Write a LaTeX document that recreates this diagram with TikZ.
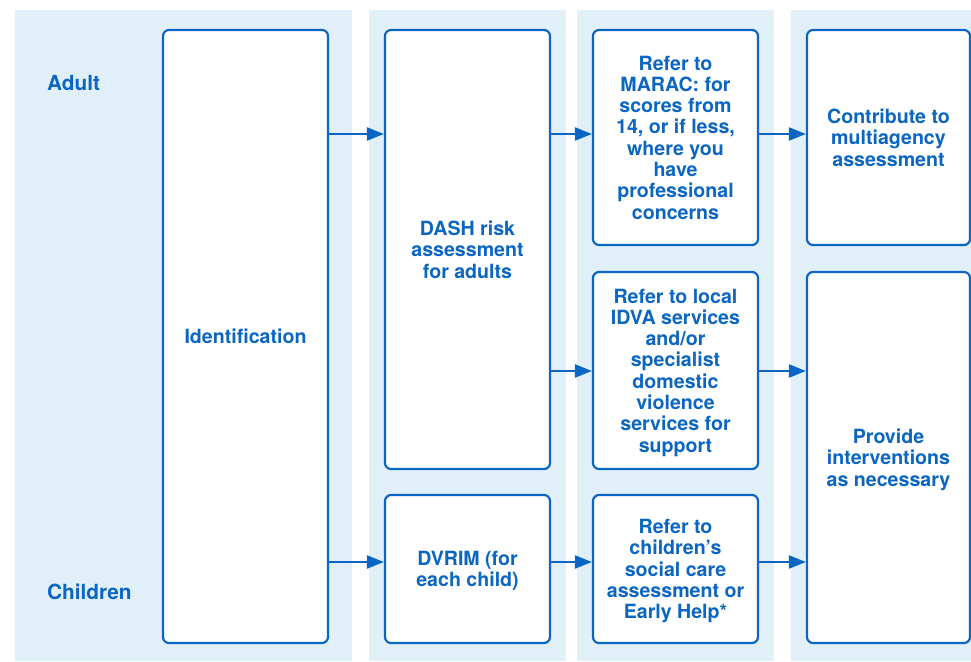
\documentclass[tikz,border=0pt]{standalone}
\usepackage{fontspec}
\setmainfont{TeX Gyre Heros}
\usetikzlibrary{arrows.meta}
\definecolor{dblue}{HTML}{0A66C2}
\definecolor{lblue}{HTML}{E1EFF9}
\tikzset{
  col/.style={fill=lblue, draw=none},
  box/.style={draw=dblue, line width=2.2pt, rounded corners=6pt, fill=white,
    text=dblue, align=center, inner sep=0pt, text depth=0pt,
    font=\fontsize{19.6}{21.3}\selectfont\bfseries},
  lbl/.style={text=dblue, anchor=west, inner sep=0pt,
    font=\fontsize{20.8}{22}\selectfont\bfseries},
  arr/.style={draw=dblue, line width=2.2pt, -{Triangle[length=17pt,width=13pt]}}
}
\begin{document}
\begin{tikzpicture}[x=1pt,y=-1pt]
\useasboundingbox (0,0) rectangle (971,661);
% column backgrounds
\fill[col] (15,10) rectangle (352,661);
\fill[col] (369,10) rectangle (566,661);
\fill[col] (577,10) rectangle (774,661);
\fill[col] (791,10) rectangle (971,661);
% row labels
\node[lbl] (adult) at (47,83) {Adult};
\node[lbl] (children) at (47,592) {Children};
% boxes
\node[box, minimum width=165pt, minimum height=613pt] (ident) at (245.5,336.5) {Identification};
\node[box, minimum width=165pt, minimum height=439pt] (dash) at (467.5,249.5) {DASH risk\\assessment\\for adults};
\node[box, minimum width=165pt, minimum height=148pt] (dvrim) at (467.5,569) {DVRIM (for\\each child)};
\node[box, minimum width=165pt, minimum height=215pt] (marac) at (675.5,137.5) {Refer to\\MARAC: for\\scores from\\14, or if less,\\where you\\have\\professional\\concerns};
\node[box, minimum width=165pt, minimum height=197pt] (idva) at (675.5,370.5) {Refer to local\\IDVA services\\and/or\\specialist\\domestic\\violence\\services for\\support};
\node[box, minimum width=165pt, minimum height=148pt] (child) at (675.5,569) {Refer to\\children’s\\social care\\assessment or\\Early Help*};
\node[box, minimum width=163pt, minimum height=215pt] (contrib) at (888.5,137.5) {Contribute to\\multiagency\\assessment};
\node[box, minimum width=163pt, minimum height=371pt] (provide) at (888.5,457.5) {Provide\\interventions\\as necessary};
% row coordinates
\coordinate (rA) at (0,134);
\coordinate (rB) at (0,371);
\coordinate (rC) at (0,562);
% connectors
\draw[arr] (ident.east |- rA) -- (dash.west |- rA);
\draw[arr] (ident.east |- rC) -- (dvrim.west |- rC);
\draw[arr] (dash.east |- rA) -- (marac.west |- rA);
\draw[arr] (dash.east |- rB) -- (idva.west |- rB);
\draw[arr] (dvrim.east |- rC) -- (child.west |- rC);
\draw[arr] (marac.east |- rA) -- (contrib.west |- rA);
\draw[arr] (idva.east |- rB) -- (provide.west |- rB);
\draw[arr] (child.east |- rC) -- (provide.west |- rC);
\end{tikzpicture}
\end{document}
